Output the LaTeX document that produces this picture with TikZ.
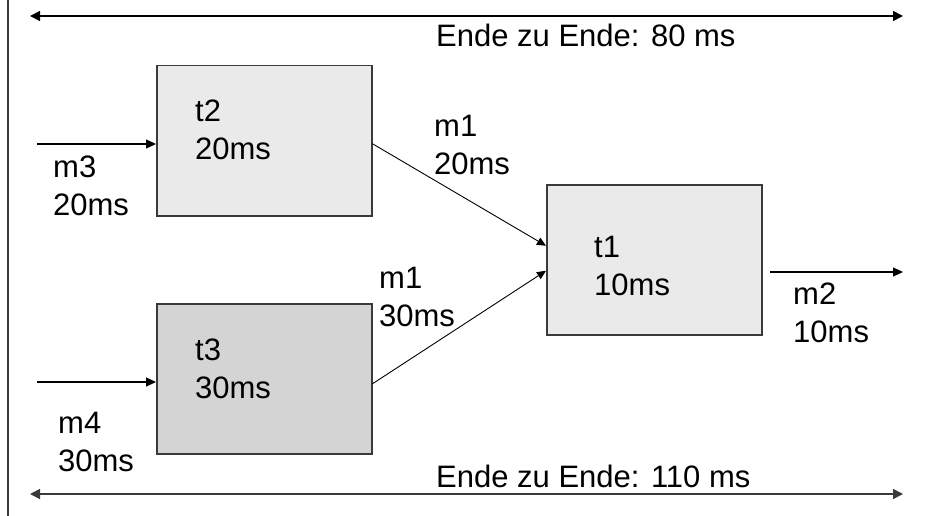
\documentclass[tikz,border=0pt]{standalone}
\usepackage{fontspec}
\setmainfont{Liberation Sans}
\usetikzlibrary{arrows.meta}
\definecolor{boxlight}{HTML}{EAEAEA}
\definecolor{boxdark}{HTML}{D4D4D4}
\definecolor{edge}{HTML}{3A3A3A}
\begin{document}
\begin{tikzpicture}[x=1pt,y=-1pt,
  every node/.style={font=\fontsize{31}{38}\selectfont},
  taskbox/.style={draw=edge, line width=1.5pt, minimum width=215pt,
    minimum height=150pt, inner sep=0pt, anchor=north west},
  % two-line labels: the anchor sits on the baseline of the second line
  lbl/.style={anchor=base west, inner sep=0pt, align=left},
  span/.style={line width=1.5pt, {Triangle[length=10pt,width=10pt]}-{Triangle[length=10pt,width=10pt]}},
  msg/.style={line width=1.2pt, -{Triangle[length=10pt,width=9pt]}},
  flow/.style={line width=0.9pt, -{Triangle[length=9pt,width=8pt]}}]
  \useasboundingbox (0,0) rectangle (937,516);
  \fill[white] (0,0) rectangle (937,516);

  % frame line on the left
  \coordinate (frameTop) at (8,0);
  \coordinate (frameBot) at (8,516);
  \draw[line width=1.4pt, color=edge] (frameTop) -- (frameBot);

  % tasks
  \node[taskbox, fill=boxlight] (t2) at (156,65) {};
  \node[taskbox, fill=boxdark]  (t3) at (156,303) {};
  \node[taskbox, fill=boxlight] (t1) at (546,184) {};

  \node[lbl] (t2l) at (195,160) {t2\\20ms};
  \node[lbl] (t3l) at (195,398) {t3\\30ms};
  \node[lbl] (t1l) at (594,295) {t1\\10ms};

  % end-to-end spans
  \coordinate (topL) at (30,16);
  \coordinate (topR) at (903,16);
  \draw[span] (topL) -- (topR);
  \node[lbl] (e80) at (436,47) {Ende zu Ende: 80 ms};

  \coordinate (botL) at (30,494);
  \coordinate (botR) at (903,494);
  \draw[span, color=edge] (botL) -- (botR);
  \node[lbl] (e110) at (436,487) {Ende zu Ende: 110 ms};

  % incoming and outgoing messages
  \coordinate (m3s) at (37,144);
  \draw[msg] (m3s) -- (m3s -| t2.west);
  \node[lbl] (m3l) at (53,215) {m3\\20ms};

  \coordinate (m4s) at (37,382);
  \draw[msg] (m4s) -- (m4s -| t3.west);
  \node[lbl] (m4l) at (58,471) {m4\\30ms};

  \coordinate (m2e) at (903,272);
  \draw[msg] (m2e -| 770,0) -- (m2e);
  \node[lbl] (m2l) at (793,342) {m2\\10ms};

  % m1 from t2 and t3 into t1
  \draw[flow] ([yshift=-3pt]t2.east) -- ([yshift=14pt]t1.west);
  \node[lbl] (m1a) at (434,175) {m1\\20ms};
  \draw[flow] ([yshift=-5pt]t3.east) -- ([yshift=-11pt]t1.west);
  \node[lbl] (m1b) at (379,326) {m1\\30ms};
\end{tikzpicture}
\end{document}
